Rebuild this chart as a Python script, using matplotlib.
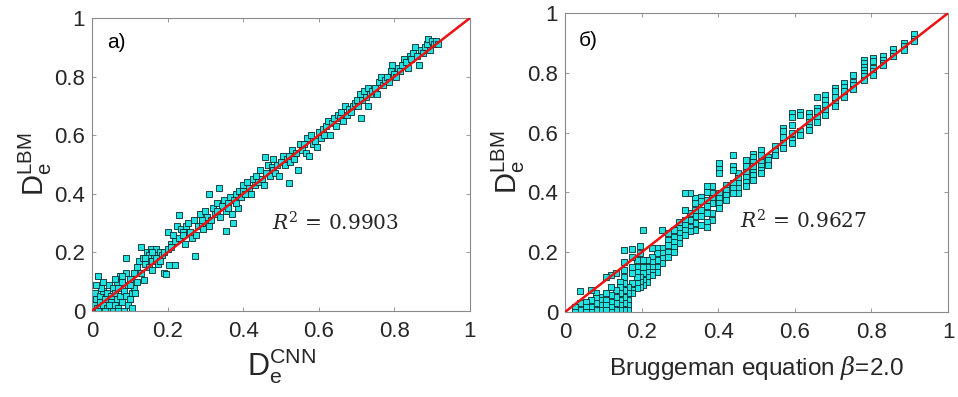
import matplotlib.pyplot as plt
import numpy as np

# panel a: CNN prediction vs LBM
x_a = [0.00, 0.005, 0.01, 0.008, 0.015, 0.012, 0.02, 0.02, 0.025, 0.03, 0.03, 0.035, 0.04, 0.04, 0.045,
       0.05, 0.05, 0.055, 0.055, 0.06, 0.06, 0.065, 0.065, 0.07, 0.07, 0.075, 0.075, 0.08, 0.08, 0.085,
       0.085, 0.09, 0.09, 0.09, 0.095, 0.095, 0.10, 0.10, 0.105, 0.105, 0.11, 0.11, 0.115, 0.12, 0.12,
       0.025, 0.045, 0.015, 0.035, 0.07, 0.01, 0.06, 0.10, 0.03, 0.08,
       0.125, 0.13, 0.13, 0.135, 0.138, 0.14, 0.145, 0.15, 0.15, 0.155, 0.16, 0.16, 0.165, 0.17, 0.17,
       0.175, 0.18, 0.185, 0.19, 0.195, 0.19, 0.20, 0.20, 0.205, 0.21, 0.215, 0.22, 0.22, 0.225, 0.229,
       0.23, 0.235, 0.24, 0.245, 0.25, 0.14, 0.16, 0.18, 0.21, 0.24,
       0.255, 0.26, 0.265, 0.27, 0.273, 0.275, 0.28, 0.285, 0.29, 0.295, 0.30, 0.305, 0.31, 0.31, 0.315,
       0.32, 0.325, 0.33, 0.336, 0.34, 0.345, 0.35, 0.354, 0.355, 0.36, 0.365, 0.37, 0.373, 0.375, 0.38,
       0.385, 0.39, 0.395, 0.40, 0.40, 0.29, 0.33, 0.36, 0.38,
       0.405, 0.41, 0.415, 0.42, 0.425, 0.43, 0.435, 0.44, 0.445, 0.45, 0.455, 0.458, 0.46, 0.465, 0.47,
       0.475, 0.478, 0.48, 0.485, 0.49, 0.495, 0.50, 0.505, 0.51, 0.515, 0.52, 0.52, 0.525, 0.53, 0.535,
       0.545, 0.54, 0.55, 0.555, 0.56, 0.565, 0.57, 0.575, 0.58, 0.585, 0.59, 0.595, 0.60,
       0.605, 0.61, 0.615, 0.62, 0.625, 0.63, 0.635, 0.64, 0.645, 0.65, 0.655, 0.66, 0.665, 0.67, 0.675,
       0.68, 0.685, 0.69, 0.695, 0.70, 0.705, 0.712, 0.71, 0.715, 0.72, 0.725, 0.73, 0.73, 0.735, 0.74,
       0.75, 0.755, 0.76, 0.765, 0.77, 0.775, 0.78, 0.785, 0.79, 0.795, 0.80, 0.805, 0.81, 0.815, 0.82,
       0.825, 0.83, 0.835, 0.84, 0.845, 0.85, 0.855, 0.86, 0.865, 0.87, 0.875, 0.88, 0.885, 0.89, 0.895,
       0.90, 0.905, 0.91, 0.915]
y_a = [0.00, 0.02, 0.04, 0.06, 0.12, 0.01, 0.03, 0.05, 0.00, 0.02, 0.07, 0.04, 0.01, 0.06, 0.09,
       0.03, 0.05, 0.00, 0.08, 0.02, 0.06, 0.10, 0.04, 0.01, 0.08, 0.12, 0.05, 0.03, 0.10, 0.00,
       0.07, 0.13, 0.05, 0.18, 0.02, 0.09, 0.04, 0.11, 0.06, 0.01, 0.08, 0.13, 0.06, 0.10, 0.15,
       0.08, 0.02, 0.00, 0.00, 0.00, 0.09, 0.11, 0.09, 0.10, 0.12,
       0.17, 0.13, 0.22, 0.18, 0.106, 0.16, 0.20, 0.15, 0.19, 0.21, 0.17, 0.14, 0.19, 0.21, 0.18,
       0.16, 0.20, 0.19, 0.13, 0.125, 0.20, 0.27, 0.21, 0.156, 0.23, 0.26, 0.156, 0.24, 0.29, 0.326,
       0.25, 0.28, 0.27, 0.23, 0.29, 0.18, 0.20, 0.17, 0.22, 0.26,
       0.30, 0.27, 0.25, 0.31, 0.188, 0.26, 0.29, 0.33, 0.30, 0.28, 0.34, 0.32, 0.40, 0.29, 0.31,
       0.35, 0.33, 0.37, 0.42, 0.32, 0.36, 0.38, 0.274, 0.34, 0.37, 0.39, 0.33, 0.30, 0.38, 0.40,
       0.35, 0.41, 0.39, 0.43, 0.41, 0.31, 0.34, 0.35, 0.37,
       0.40, 0.44, 0.42, 0.40, 0.45, 0.43, 0.46, 0.44, 0.48, 0.45, 0.43, 0.525, 0.47, 0.50, 0.46,
       0.49, 0.52, 0.48, 0.47, 0.50, 0.46, 0.51, 0.53, 0.50, 0.52, 0.436, 0.53, 0.51, 0.55, 0.52,
       0.48, 0.54, 0.57, 0.55, 0.57, 0.54, 0.59, 0.53, 0.60, 0.57, 0.58, 0.56, 0.61,
       0.59, 0.62, 0.60, 0.63, 0.65, 0.60, 0.64, 0.66, 0.63, 0.67, 0.66, 0.68, 0.65, 0.70, 0.67,
       0.69, 0.68, 0.70, 0.71, 0.72, 0.70, 0.658, 0.74, 0.72, 0.75, 0.73, 0.70, 0.76, 0.74, 0.75,
       0.76, 0.74, 0.78, 0.80, 0.77, 0.79, 0.80, 0.78, 0.82, 0.84, 0.81, 0.80, 0.83, 0.82, 0.84,
       0.86, 0.85, 0.83, 0.87, 0.86, 0.88, 0.90, 0.87, 0.84, 0.89, 0.88, 0.90, 0.91, 0.93, 0.89,
       0.92, 0.91, 0.92, 0.91]

# panel b: Bruggeman equation (beta = 2.0) vs LBM, grouped in columns
col_x_b = [0.91, 0.884, 0.855, 0.83, 0.804, 0.78, 0.753, 0.729, 0.705, 0.68, 0.657, 0.636, 0.614,
           0.592, 0.57, 0.548, 0.53, 0.511, 0.492, 0.472, 0.452, 0.438, 0.42, 0.403, 0.385, 0.37,
           0.355, 0.34, 0.326, 0.313, 0.298, 0.285, 0.27, 0.252, 0.239, 0.226, 0.213, 0.204, 0.195,
           0.187, 0.176, 0.165, 0.154, 0.143, 0.132, 0.12, 0.106, 0.092, 0.08, 0.067, 0.054, 0.038,
           0.025]
col_y_b = [
    [0.93, 0.915, 0.905],
    [0.90, 0.89, 0.877],
    [0.88, 0.866, 0.857],
    [0.857, 0.844, 0.833, 0.827],
    [0.85, 0.84, 0.816, 0.805, 0.794],
    [0.844, 0.833, 0.82, 0.81, 0.80, 0.79, 0.777],
    [0.794, 0.771, 0.76, 0.745],
    [0.766, 0.754, 0.738, 0.72],
    [0.749, 0.738, 0.72, 0.70, 0.688],
    [0.727, 0.71, 0.693, 0.676, 0.66],
    [0.72, 0.682, 0.671, 0.654, 0.637],
    [0.665, 0.654, 0.637, 0.62, 0.61],
    [0.67, 0.66, 0.604, 0.593],
    [0.665, 0.654, 0.626, 0.598, 0.576, 0.565],
    [0.615, 0.604, 0.587, 0.565, 0.548],
    [0.556, 0.537, 0.526],
    [0.52, 0.509, 0.492],
    [0.542, 0.526, 0.503, 0.487, 0.475, 0.464],
    [0.53, 0.52, 0.503, 0.487, 0.47, 0.46, 0.442],
    [0.509, 0.487, 0.47, 0.453, 0.436, 0.42],
    [0.464, 0.447, 0.43, 0.414, 0.397],
    [0.525, 0.487, 0.475, 0.43, 0.414, 0.397],
    [0.425, 0.408, 0.39, 0.375],
    [0.498, 0.48, 0.464, 0.397, 0.38, 0.364, 0.347],
    [0.42, 0.397, 0.38, 0.364, 0.33, 0.308],
    [0.42, 0.40, 0.375, 0.353, 0.33, 0.30, 0.286],
    [0.386, 0.37, 0.34, 0.32, 0.29],
    [0.38, 0.364, 0.34, 0.32, 0.297, 0.275],
    [0.397, 0.33, 0.308, 0.286, 0.27],
    [0.397, 0.34, 0.308, 0.29, 0.275, 0.258],
    [0.30, 0.28, 0.263, 0.247, 0.23],
    [0.275, 0.252, 0.235, 0.219, 0.202],
    [0.263, 0.24, 0.224, 0.202, 0.185],
    [0.275, 0.213, 0.196, 0.18, 0.163],
    [0.213, 0.196, 0.174, 0.152, 0.135],
    [0.213, 0.185, 0.168, 0.152, 0.135, 0.124],
    [0.174, 0.152, 0.135, 0.118, 0.10],
    [0.275, 0.174, 0.152, 0.13, 0.107, 0.09],
    [0.22, 0.196, 0.118, 0.10, 0.085],
    [0.174, 0.152, 0.135, 0.118, 0.096, 0.08],
    [0.21, 0.185, 0.152, 0.13, 0.096, 0.074, 0.062],
    [0.085, 0.062, 0.04, 0.023, 0.007],
    [0.207, 0.168, 0.14, 0.118, 0.096, 0.074, 0.051, 0.029, 0.007],
    [0.10, 0.085, 0.062, 0.04, 0.023, 0.007],
    [0.13, 0.074, 0.051, 0.029, 0.007],
    [0.124, 0.085, 0.057, 0.035, 0.018, 0.0],
    [0.118, 0.062, 0.04, 0.023, 0.007],
    [0.051, 0.04, 0.023, 0.007],
    [0.062, 0.046, 0.029, 0.007],
    [0.074, 0.04, 0.018, 0.0],
    [0.035, 0.018, 0.0],
    [0.07, 0.029, 0.007],
    [0.018, 0.0],
]

r2_a = 0.9903
r2_b = 0.9627
ticks = [0, 0.2, 0.4, 0.6, 0.8, 1]
tick_labels = ['0', '0.2', '0.4', '0.6', '0.8', '1']

x_b = [x for x, ys in zip(col_x_b, col_y_b) for _ in ys]
y_b = [y for ys in col_y_b for y in ys]

plt.rcParams['font.family'] = ['Liberation Sans', 'DejaVu Sans']
plt.rcParams['mathtext.fontset'] = 'dejavuserif'
text_color = '#262626'
face = '#1fe3e3'
edge = '#0d2a2a'

fig = plt.figure(figsize=(9.58, 3.97), dpi=100)
ax_a = fig.add_axes([0.096, 0.2166, 0.3946, 0.738])
ax_b = fig.add_axes([0.5898, 0.2141, 0.3998, 0.7529])


def style_axes(ax):
    ax.set_xlim(0, 1)
    ax.set_ylim(0, 1)
    ax.set_xticks(ticks)
    ax.set_yticks(ticks)
    ax.set_xticklabels(tick_labels)
    ax.set_yticklabels(tick_labels)
    ax.tick_params(direction='in', top=True, right=True, length=3, width=0.6,
                   color='#8a8a8a', labelsize=16, labelcolor=text_color)
    ax.tick_params(axis='x', pad=7)
    ax.tick_params(axis='y', pad=5)
    for sp in ax.spines.values():
        sp.set_color('#8a8a8a')
        sp.set_linewidth(0.8)


for ax, xs, ys in [(ax_a, x_a, y_a), (ax_b, x_b, y_b)]:
    ax.scatter(xs, ys, marker='s', s=14, facecolor=face, edgecolor=edge, linewidth=0.6, zorder=2)
    ax.plot([0, 1], [0, 1], color='#ee1111', linewidth=1.8, zorder=3)
    style_axes(ax)

ax_a.text(0.476, 0.30, r'$R^2$ = %.4f' % r2_a, fontsize=14.5, family='DejaVu Serif',
          va='center', color=text_color)
ax_b.text(0.457, 0.306, r'$R^2$ = %.4f' % r2_b, fontsize=14.5, family='DejaVu Serif',
          va='center', color=text_color)

ax_a.text(0.04, 0.915, 'а)', fontsize=15, va='center', color='black')
ax_b.text(0.035, 0.91, 'б)', fontsize=15, va='center', color='black')

ax_a.set_ylabel(r'D$_\mathregular{e}^\mathregular{LBM}$', fontsize=21, color=text_color, labelpad=0)
ax_b.set_ylabel(r'D$_\mathregular{e}^\mathregular{LBM}$', fontsize=21, color=text_color, labelpad=0)
ax_a.set_xlabel(r'D$_\mathregular{e}^\mathregular{CNN}$', fontsize=22, color=text_color, labelpad=3)
ax_b.set_xlabel(r'Bruggeman equation $\beta$=2.0', fontsize=17.5, color=text_color, labelpad=8)

fig.savefig('out.png', dpi=100)
